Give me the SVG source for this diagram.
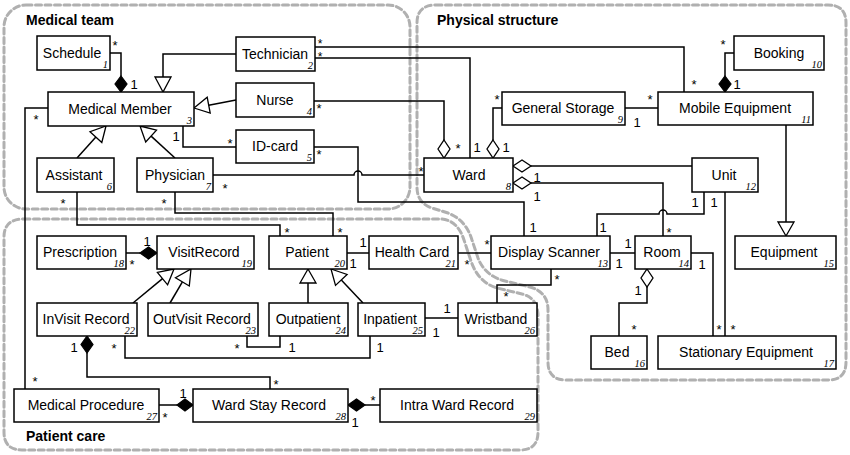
<svg xmlns="http://www.w3.org/2000/svg" width="850" height="455" viewBox="0 0 850 455">
<style>
.grp{fill:none;stroke:#b0b0b0;stroke-width:3;stroke-dasharray:6 3.5;stroke-linecap:round}
.gt{font-family:"Liberation Sans",Arial,sans-serif;font-weight:bold;font-size:14px}
.box rect{fill:#fff;stroke:#000;stroke-width:1.5}
.lbl{font-family:"Liberation Sans",Arial,sans-serif;font-size:14px;text-anchor:middle}
.num{font-family:"Liberation Serif","Times New Roman",serif;font-style:italic;font-size:10.5px;text-anchor:end}
.conn path{fill:none;stroke:#000;stroke-width:1.5}
.conn .fd{fill:#000;stroke:#000;stroke-width:1.2}
.conn .hd{fill:#fff;stroke:#000;stroke-width:1.3}
.m{font-family:"Liberation Sans",Arial,sans-serif;font-size:13px;text-anchor:middle}
.m .s{font-size:12px}
</style>
<rect width="850" height="455" fill="#fff"/>
<g id="groups">
<rect class="grp" x="4" y="5" width="406" height="204" rx="22"/>
<path class="grp" d="M436,5 H828 Q846,5 846,23 V362 Q846,380 828,380 H566 Q548,380 548,362 V310 Q548,292 530,287 L505,281 Q485,276 478,258 L472,240 Q466,220 448,213 L432,208 Q417,203 417,187 V23 Q417,5 436,5 Z"/>
<path class="grp" d="M24,219 H442 Q458,221 464,240 L470,258 Q477,282 497,288 L522,294 Q538,298 538,316 V432 Q538,450 520,450 H22 Q4,450 4,432 V237 Q4,219 24,219 Z"/>
<text class="gt" x="26" y="25">Medical team</text>
<text class="gt" x="437" y="25">Physical structure</text>
<text class="gt" x="26" y="441">Patient care</text>
</g>
<g id="connectors" class="conn">
<path d="M110,53 H121 V76"/>
<path class="fd" d="M121,76 L127,84 L121,92 L115,84 Z"/>
<path d="M236,54 H163 V77"/>
<path class="hd" d="M163,92 L155,77 L171,77 Z"/>
<path d="M236,100 L208.7,105.2"/>
<path class="hd" d="M194,108 L210.2,113.1 L207.2,97.3 Z"/>
<path d="M77,158 L95.9,137.1"/>
<path class="hd" d="M106,126 L101.8,142.5 L90,131.7 Z"/>
<path d="M175,158 L151.1,136.1"/>
<path class="hd" d="M140,126 L156.5,130.2 L145.7,142 Z"/>
<path d="M183,126 V147 H236"/>
<path d="M48,108 H25 V389"/>
<path d="M315,47 H684 V92"/>
<path d="M315,58 H470 V158"/>
<path d="M314,101 H444 V140"/>
<path class="hd" d="M444,140 L450,149 L444,158 L438,149 Z"/>
<path d="M502,108 H493 V140"/>
<path class="hd" d="M493,140 L499,149 L493,158 L487,149 Z"/>
<path d="M625,108 H658"/>
<path d="M734,53 H725 V76"/>
<path class="fd" d="M725,76 L731,84 L725,92 L719,84 Z"/>
<path d="M786,125 V222"/>
<path class="hd" d="M786,236 L778,222 L794,222 Z"/>
<path class="hd" d="M513,166 L522,160 L531,166 L522,172 Z"/>
<path d="M531,166 H692"/>
<path class="hd" d="M513,183 L522,177 L531,183 L522,189 Z"/>
<path d="M531,183 H663 V236"/>
<path d="M704,192 V214 H667 A4,4 0 0 0 659,214 H597 V236"/>
<path d="M725,192 V336"/>
<path d="M691,253 H713 V336"/>
<path d="M610,253 H635"/>
<path class="hd" d="M647,269 L653,278 L647,287 L641,278 Z"/>
<path d="M647,287 V303 H619 V336"/>
<path d="M314,147 H358 V202 H524 V236"/>
<path d="M213,175 H354 A4,4 0 0 1 362,175 H424"/>
<path d="M77,192 V225 H280 V236"/>
<path d="M175,192 V213 H333 V236"/>
<path d="M347,253 H369"/>
<path d="M458,253 H491"/>
<path d="M551,269 V285 H497 V303"/>
<path d="M425,318 H458"/>
<path d="M126,253 H140"/>
<path class="fd" d="M140,253 L148.5,247 L157,253 L148.5,259 Z"/>
<path d="M133,303 L162.5,278.6"/>
<path class="hd" d="M174,269 L167.6,284.8 L157.4,272.4 Z"/>
<path d="M170,303 L182.4,281.9"/>
<path class="hd" d="M191,269 L189.3,286 L175.5,277.8 Z"/>
<path d="M308,303 V283"/>
<path class="hd" d="M308,269 L300,283 L316,283 Z"/>
<path d="M363,303 L341.3,279.9"/>
<path class="hd" d="M331,269 L347.1,274.4 L335.5,285.4 Z"/>
<path d="M247,336 V347 H280 V336"/>
<path d="M125,336 V358 H370 V336"/>
<path class="fd" d="M87,336 L93,344.5 L87,353 L81,344.5 Z"/>
<path d="M87,353 V377 H270 V389"/>
<path d="M159,405 H177"/>
<path class="fd" d="M177,405 L185,399 L193,405 L185,411 Z"/>
<path class="fd" d="M348,405 L356.5,399 L365,405 L356.5,411 Z"/>
<path d="M365,405 H380"/>
</g>
<g id="multiplicities" class="m">
<text x="115" y="50">*</text><text x="134" y="89">1</text>
<text class="s" x="320" y="47.5">*</text><text class="s" x="320" y="61">*</text>
<text x="319" y="113">*</text>
<text x="319" y="159">*</text><text x="230" y="148">*</text>
<text x="176" y="141">1</text>
<text x="36" y="124">*</text>
<text x="225" y="193">*</text><text x="421" y="176">*</text>
<text x="63" y="208">*</text><text x="164" y="208">*</text>
<text x="723" y="49">*</text><text x="737" y="89">1</text>
<text x="694" y="89">*</text>
<text x="497" y="104">*</text>
<text x="650" y="104">*</text><text x="637" y="127">1</text>
<text x="458" y="153">*</text><text x="477" y="152">1</text><text x="506" y="152">1</text>
<text x="537" y="182">1</text><text x="537" y="201">1</text>
<text x="695" y="207">1</text><text x="714" y="207">1</text>
<text x="603" y="232">1</text><text x="669" y="237">*</text>
<text x="533" y="232">1</text>
<text x="487" y="249">*</text><text x="467" y="269">*</text>
<text x="628" y="248">1</text><text x="619" y="268">1</text>
<text x="702" y="269">1</text>
<text x="557" y="284">*</text><text x="506" y="301">*</text>
<text x="447" y="313">1</text><text x="436" y="337">1</text>
<text x="638" y="295">1</text><text x="634" y="334">*</text>
<text x="719" y="334">*</text><text x="733" y="334">*</text>
<text x="287" y="237">*</text><text x="340" y="237">*</text>
<text x="147" y="246">1</text><text x="132" y="269">*</text>
<text x="363" y="247">1</text><text x="353" y="268">1</text>
<text x="74" y="352">1</text><text x="114" y="353">*</text>
<text x="237" y="353">*</text><text x="292" y="352">1</text>
<text x="380" y="352">1</text>
<text x="35" y="386">*</text><text x="276" y="389">*</text>
<text x="183" y="398">1</text><text x="165" y="422">*</text>
<text x="373" y="405">*</text><text x="355" y="427">1</text>
</g>
<g id="n1" class="box"><rect x="37" y="36" width="73" height="34"/><text class="lbl" x="72" y="58">Schedule</text><text class="num" x="108" y="68">1</text></g>
<g id="n2" class="box"><rect x="236" y="37" width="79" height="34"/><text class="lbl" x="275" y="59">Technician</text><text class="num" x="313" y="69">2</text></g>
<g id="n3" class="box"><rect x="48" y="92" width="146" height="34"/><text class="lbl" x="120" y="114">Medical Member</text><text class="num" x="192" y="124">3</text></g>
<g id="n4" class="box"><rect x="236" y="83" width="78" height="34"/><text class="lbl" x="275" y="105">Nurse</text><text class="num" x="312" y="115">4</text></g>
<g id="n5" class="box"><rect x="236" y="130" width="78" height="33"/><text class="lbl" x="275" y="151">ID-card</text><text class="num" x="312" y="161">5</text></g>
<g id="n6" class="box"><rect x="37" y="158" width="77" height="34"/><text class="lbl" x="74" y="180">Assistant</text><text class="num" x="112" y="190">6</text></g>
<g id="n7" class="box"><rect x="137" y="158" width="76" height="34"/><text class="lbl" x="175" y="180">Physician</text><text class="num" x="211" y="190">7</text></g>
<g id="n8" class="box"><rect x="424" y="158" width="89" height="34"/><text class="lbl" x="469" y="180">Ward</text><text class="num" x="511" y="190">8</text></g>
<g id="n9" class="box"><rect x="502" y="92" width="123" height="33"/><text class="lbl" x="563" y="113">General Storage</text><text class="num" x="623" y="123">9</text></g>
<g id="n10" class="box"><rect x="734" y="36" width="90" height="34"/><text class="lbl" x="779" y="58">Booking</text><text class="num" x="822" y="68">10</text></g>
<g id="n11" class="box"><rect x="658" y="92" width="155" height="33"/><text class="lbl" x="735" y="113">Mobile Equipment</text><text class="num" x="811" y="123">11</text></g>
<g id="n12" class="box"><rect x="692" y="158" width="66" height="34"/><text class="lbl" x="724" y="180">Unit</text><text class="num" x="756" y="190">12</text></g>
<g id="n13" class="box"><rect x="491" y="236" width="119" height="33"/><text class="lbl" x="549" y="257">Display Scanner</text><text class="num" x="608" y="267">13</text></g>
<g id="n14" class="box"><rect x="635" y="236" width="56" height="33"/><text class="lbl" x="662" y="257">Room</text><text class="num" x="689" y="267">14</text></g>
<g id="n15" class="box"><rect x="735" y="236" width="101" height="33"/><text class="lbl" x="784" y="257">Equipment</text><text class="num" x="834" y="267">15</text></g>
<g id="n16" class="box"><rect x="591" y="336" width="56" height="33"/><text class="lbl" x="617" y="357">Bed</text><text class="num" x="645" y="367">16</text></g>
<g id="n17" class="box"><rect x="658" y="336" width="178" height="33"/><text class="lbl" x="746" y="357">Stationary Equipment</text><text class="num" x="834" y="367">17</text></g>
<g id="n18" class="box"><rect x="37" y="236" width="89" height="33"/><text class="lbl" x="80" y="257">Prescription</text><text class="num" x="124" y="267">18</text></g>
<g id="n19" class="box"><rect x="157" y="236" width="97" height="33"/><text class="lbl" x="204" y="257">VisitRecord</text><text class="num" x="252" y="267">19</text></g>
<g id="n20" class="box"><rect x="269" y="236" width="78" height="33"/><text class="lbl" x="307" y="257">Patient</text><text class="num" x="345" y="267">20</text></g>
<g id="n21" class="box"><rect x="369" y="236" width="89" height="33"/><text class="lbl" x="412" y="257">Health Card</text><text class="num" x="456" y="267">21</text></g>
<g id="n22" class="box"><rect x="37" y="303" width="100" height="33"/><text class="lbl" x="86" y="324">InVisit Record</text><text class="num" x="135" y="334">22</text></g>
<g id="n23" class="box"><rect x="148" y="303" width="110" height="33"/><text class="lbl" x="202" y="324">OutVisit Record</text><text class="num" x="256" y="334">23</text></g>
<g id="n24" class="box"><rect x="269" y="303" width="79" height="33"/><text class="lbl" x="308" y="324">Outpatient</text><text class="num" x="346" y="334">24</text></g>
<g id="n25" class="box"><rect x="358" y="303" width="67" height="33"/><text class="lbl" x="390" y="324">Inpatient</text><text class="num" x="423" y="334">25</text></g>
<g id="n26" class="box"><rect x="458" y="303" width="79" height="33"/><text class="lbl" x="496" y="324">Wristband</text><text class="num" x="535" y="334">26</text></g>
<g id="n27" class="box"><rect x="14" y="389" width="145" height="33"/><text class="lbl" x="86" y="410">Medical Procedure</text><text class="num" x="157" y="420">27</text></g>
<g id="n28" class="box"><rect x="193" y="389" width="155" height="33"/><text class="lbl" x="269" y="410">Ward Stay Record</text><text class="num" x="346" y="420">28</text></g>
<g id="n29" class="box"><rect x="380" y="389" width="157" height="33"/><text class="lbl" x="457" y="410">Intra Ward Record</text><text class="num" x="535" y="420">29</text></g>
</svg>
